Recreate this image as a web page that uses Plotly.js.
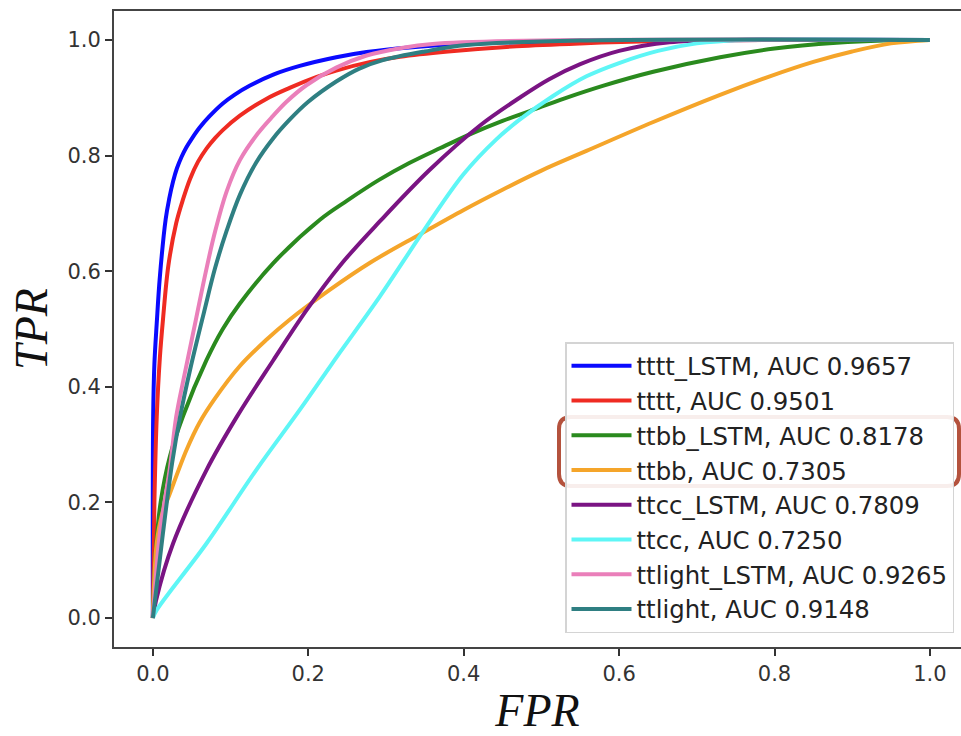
<!DOCTYPE html>
<html>
<head>
<meta charset="utf-8">
<script src="https://cdn.plot.ly/plotly-3.0.1.min.js"></script>
<style>
html, body { margin: 0; padding: 0; overflow: hidden; background: #fff; }
#chart { width: 961px; height: 736px; }
</style>
</head>
<body>
<div id="chart"></div>
<script>
// ---- data ----
const seriesNames = [
  "tttt_LSTM, AUC 0.9657",
  "tttt, AUC 0.9501",
  "ttbb_LSTM, AUC 0.8178",
  "ttbb, AUC 0.7305",
  "ttcc_LSTM, AUC 0.7809",
  "ttcc, AUC 0.7250",
  "ttlight_LSTM, AUC 0.9265",
  "ttlight, AUC 0.9148"
];

const ttttLstmFPR = [0, 0.0004, 0.002, 0.005, 0.009, 0.0165, 0.021, 0.026, 0.031, 0.037, 0.043, 0.05, 0.06, 0.073, 0.09, 0.105, 0.125, 0.155, 0.189, 0.236, 0.275, 0.33, 0.4, 0.5, 0.65, 0.8, 1];
const ttttLstmTPR = [0, 0.348, 0.44, 0.51, 0.59, 0.69, 0.725, 0.755, 0.778, 0.798, 0.814, 0.829, 0.848, 0.868, 0.89, 0.905, 0.921, 0.94, 0.955, 0.97, 0.979, 0.987, 0.993, 0.997, 0.999, 1, 1];

const ttttFPR = [0, 0.002, 0.005, 0.009, 0.013, 0.02, 0.03, 0.039, 0.048, 0.058, 0.069, 0.08, 0.09, 0.112, 0.146, 0.176, 0.211, 0.236, 0.28, 0.318, 0.38, 0.468, 0.55, 0.65, 0.8, 1];
const ttttTPR = [0, 0.2, 0.348, 0.45, 0.516, 0.61, 0.683, 0.725, 0.76, 0.789, 0.812, 0.83, 0.844, 0.869, 0.898, 0.917, 0.936, 0.947, 0.962, 0.971, 0.98, 0.989, 0.994, 0.998, 1, 1];

const ttbbLstmFPR = [0, 0.004, 0.01, 0.022, 0.039, 0.069, 0.09, 0.112, 0.155, 0.215, 0.25, 0.29, 0.33, 0.37, 0.41, 0.45, 0.485, 0.53, 0.58, 0.644, 0.73, 0.8, 0.88, 0.94, 1];
const ttbbLstmTPR = [0, 0.12, 0.2, 0.28, 0.35, 0.446, 0.5, 0.544, 0.614, 0.689, 0.722, 0.757, 0.787, 0.813, 0.838, 0.86, 0.877, 0.899, 0.921, 0.945, 0.97, 0.985, 0.995, 0.999, 1];

const ttbbFPR = [0, 0.005, 0.012, 0.022, 0.043, 0.06, 0.08, 0.112, 0.145, 0.176, 0.228, 0.28, 0.344, 0.4, 0.45, 0.5, 0.558, 0.644, 0.73, 0.794, 0.85, 0.9, 0.95, 1];
const ttbbTPR = [0, 0.13, 0.18, 0.216, 0.29, 0.338, 0.38, 0.436, 0.48, 0.516, 0.568, 0.615, 0.664, 0.706, 0.741, 0.774, 0.808, 0.858, 0.905, 0.937, 0.962, 0.98, 0.994, 1];

const ttccLstmFPR = [0, 0.004, 0.026, 0.069, 0.108, 0.155, 0.198, 0.241, 0.292, 0.356, 0.421, 0.472, 0.51, 0.55, 0.6, 0.665, 0.75, 1];
const ttccLstmTPR = [0, 0.03, 0.129, 0.256, 0.348, 0.446, 0.533, 0.61, 0.686, 0.775, 0.852, 0.9, 0.932, 0.958, 0.981, 0.996, 1, 1];

const ttccFPR = [0, 0.005, 0.069, 0.133, 0.189, 0.228, 0.241, 0.292, 0.352, 0.4, 0.442, 0.472, 0.515, 0.558, 0.6, 0.65, 0.7, 0.76, 1];
const ttccTPR = [0, 0.014, 0.129, 0.256, 0.36, 0.435, 0.46, 0.556, 0.677, 0.768, 0.828, 0.862, 0.903, 0.937, 0.96, 0.981, 0.994, 1, 1];

const ttlightLstmFPR = [0, 0.009, 0.022, 0.03, 0.039, 0.048, 0.056, 0.068, 0.08, 0.095, 0.112, 0.135, 0.155, 0.172, 0.198, 0.236, 0.275, 0.32, 0.36, 0.5, 1];
const ttlightLstmTPR = [0, 0.147, 0.26, 0.348, 0.41, 0.468, 0.52, 0.598, 0.668, 0.738, 0.792, 0.838, 0.869, 0.893, 0.922, 0.952, 0.973, 0.986, 0.993, 0.999, 1];

const ttlightFPR = [0, 0.013, 0.025, 0.035, 0.048, 0.066, 0.08, 0.095, 0.112, 0.133, 0.155, 0.176, 0.2, 0.236, 0.265, 0.296, 0.35, 0.404, 0.55, 1];
const ttlightTPR = [0, 0.147, 0.27, 0.348, 0.43, 0.53, 0.605, 0.67, 0.732, 0.788, 0.83, 0.862, 0.893, 0.928, 0.95, 0.965, 0.98, 0.991, 0.999, 1];

const tickVals = [0, 0.2, 0.4, 0.6, 0.8, 1.0];
const tickText = ["0.0", "0.2", "0.4", "0.6", "0.8", "1.0"];

// ---- styling ----
const colors = ["#0a0aff", "#ef2b22", "#2a8a1e", "#f5a52a", "#7a1483", "#5ef6f6", "#ea7fba", "#2f7f82"];
const xs = [ttttLstmFPR, ttttFPR, ttbbLstmFPR, ttbbFPR, ttccLstmFPR, ttccFPR, ttlightLstmFPR, ttlightFPR];
const ys = [ttttLstmTPR, ttttTPR, ttbbLstmTPR, ttbbTPR, ttccLstmTPR, ttccTPR, ttlightLstmTPR, ttlightTPR];

const traces = seriesNames.map((name, i) => ({
  type: "scatter",
  mode: "lines",
  name: name,
  x: xs[i],
  y: ys[i],
  line: { color: colors[i], width: 4, shape: "spline", smoothing: 1.0 }
}));

// figure geometry in px (used only for the highlight box and legend anchor)
const W = 961, H = 736;
const mL = 114, mR = 0, mT = 11, mB = 89;
const pw = W - mL - mR, ph = H - mT - mB;
const px = v => (v - mL) / pw;
const py = v => (H - mB - v) / ph;
const bL = 559, bR = 959, bT = 417, bB = 486, rad = 12;
const rx = rad / pw, ry = rad / ph;
const boxPath =
  `M ${px(bL) + rx} ${py(bT)} L ${px(bR) - rx} ${py(bT)} Q ${px(bR)} ${py(bT)} ${px(bR)} ${py(bT) - ry} ` +
  `L ${px(bR)} ${py(bB) + ry} Q ${px(bR)} ${py(bB)} ${px(bR) - rx} ${py(bB)} ` +
  `L ${px(bL) + rx} ${py(bB)} Q ${px(bL)} ${py(bB)} ${px(bL)} ${py(bB) + ry} ` +
  `L ${px(bL)} ${py(bT) - ry} Q ${px(bL)} ${py(bT)} ${px(bL) + rx} ${py(bT)} Z`;

const axisCommon = {
  tickvals: tickVals,
  ticktext: tickText,
  ticks: "outside",
  ticklen: 7,
  tickwidth: 2,
  tickcolor: "#333",
  tickfont: { family: "DejaVu Sans", size: 21, color: "#333" },
  showgrid: false,
  zeroline: false,
  showline: true,
  linecolor: "#444",
  linewidth: 2
};

const layout = {
  width: W,
  height: H,
  margin: { l: mL, r: mR, t: mT, b: mB, pad: 0 },
  paper_bgcolor: "#fff",
  plot_bgcolor: "#fff",
  showlegend: true,
  xaxis: Object.assign({}, axisCommon, {
    range: [-0.05, 1.04],
    mirror: true,
    title: { text: "<i>FPR</i>", font: { family: "Liberation Serif", size: 46, color: "#111" }, standoff: 19 }
  }),
  yaxis: Object.assign({}, axisCommon, {
    range: [-0.05, 1.05],
    mirror: false,
    title: { text: "<i>TPR</i>", font: { family: "Liberation Serif", size: 46, color: "#111" }, standoff: 5 }
  }),
  legend: {
    x: px(565), y: py(342), xanchor: "left", yanchor: "top",
    font: { family: "DejaVu Sans", size: 24.4, color: "#222" },
    bgcolor: "rgba(255,255,255,0.9)",
    bordercolor: "#d4d4d4",
    borderwidth: 1.5,
    itemwidth: 60,
    tracegroupgap: 0
  },
  shapes: [{
    type: "path",
    xref: "paper", yref: "paper",
    path: boxPath,
    line: { color: "#b4523d", width: 4 },
    fillcolor: "rgba(0,0,0,0)",
    layer: "above"
  }]
};

Plotly.newPlot("chart", traces, layout, { displayModeBar: false, staticPlot: true });
</script>
</body>
</html>
